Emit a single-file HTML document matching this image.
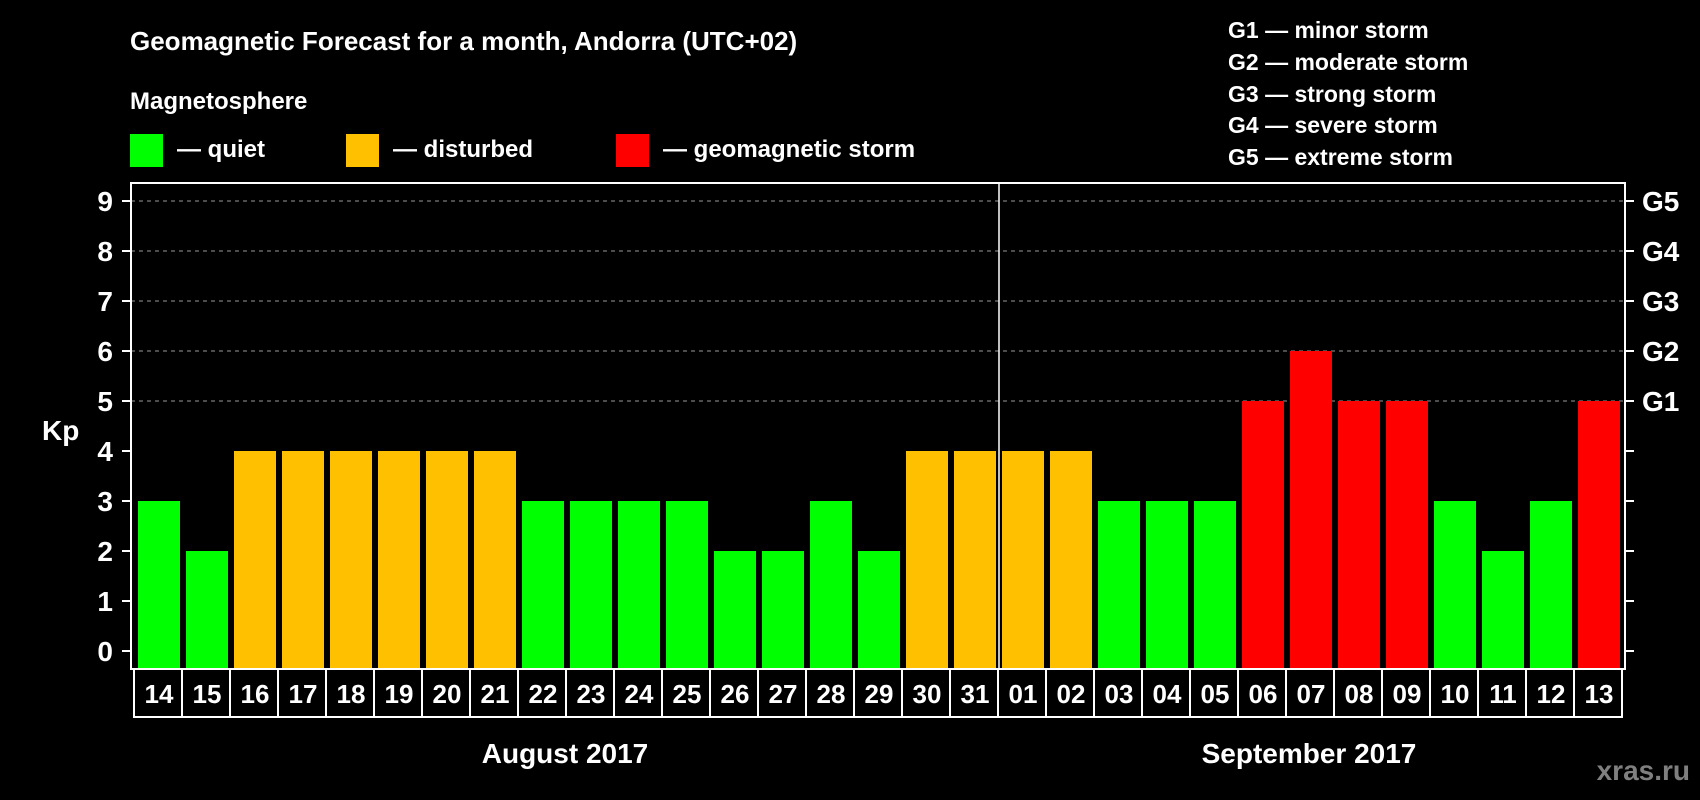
<!DOCTYPE html>
<html><head><meta charset="utf-8"><style>
html,body{margin:0;padding:0;background:#000;}
svg{display:block;font-family:"Liberation Sans",sans-serif;font-weight:bold;}
</style></head><body>
<svg id="chart" width="1700" height="800" viewBox="0 0 1700 800">
<rect width="1700" height="800" fill="#000"/>
<text x="130" y="50" fill="#fff" font-size="26">Geomagnetic Forecast for a month, Andorra (UTC+02)</text>
<text x="130" y="109" fill="#fff" font-size="24">Magnetosphere</text>
<g><rect x="130" y="134" width="33" height="33" fill="#00ff00"/><text x="177" y="157" fill="#fff" font-size="24">— quiet</text></g>
<g><rect x="346" y="134" width="33" height="33" fill="#ffc000"/><text x="393" y="157" fill="#fff" font-size="24">— disturbed</text></g>
<g><rect x="616" y="134" width="33" height="33" fill="#ff0000"/><text x="663" y="157" fill="#fff" font-size="24">— geomagnetic storm</text></g>
<g fill="#fff" font-size="23">
<text x="1228" y="38">G1 — minor storm</text>
<text x="1228" y="70">G2 — moderate storm</text>
<text x="1228" y="102">G3 — strong storm</text>
<text x="1228" y="133">G4 — severe storm</text>
<text x="1228" y="165">G5 — extreme storm</text>
</g>
<text x="42" y="440" fill="#fff" font-size="28">Kp</text>
<text x="565" y="763" fill="#fff" font-size="28" text-anchor="middle">August 2017</text>
<text x="1309" y="763" fill="#fff" font-size="28" text-anchor="middle">September 2017</text>
<text x="1690" y="780" fill="#7f7f7f" font-size="28" text-anchor="end">xras.ru</text>
<g id="grid"></g><g id="bars"></g><g id="axes"></g>
</svg>
<script>
const days = ["14","15","16","17","18","19","20","21","22","23","24","25","26","27","28","29","30","31","01","02","03","04","05","06","07","08","09","10","11","12","13"];
const kp = [3,2,4,4,4,4,4,4,3,3,3,3,2,2,3,2,4,4,4,4,3,3,3,5,6,5,5,3,2,3,5];
const yTicks = [0,1,2,3,4,5,6,7,8,9];
const gLabels = ["G1","G2","G3","G4","G5"];
const gLevels = [5,6,7,8,9];
const monthSplit = 18;

const NS="http://www.w3.org/2000/svg";
const L=131,R=1625,T=183,B=669,Y0=651,UNIT=50,PITCH=48,BX=138,BW=42;
const y=v=>Y0-v*UNIT;
const x=i=>BX+i*PITCH;
function mk(tag,attrs,parent,txt){const e=document.createElementNS(NS,tag);for(const k in attrs)e.setAttribute(k,attrs[k]);if(txt!=null)e.textContent=txt;parent.appendChild(e);return e;}
const grid=document.getElementById('grid'),bars=document.getElementById('bars'),axes=document.getElementById('axes');
gLevels.forEach((v,i)=>{
  const l=mk('line',{x1:L,x2:R,y1:y(v),y2:y(v),stroke:'#999','stroke-width':1,'stroke-dasharray':'4,4'},grid);
  
  
  const t=mk('text',{x:1642,y:y(v)+10,fill:'#fff','font-size':28},axes,gLabels[i]);
  
  
});
kp.forEach((v,i)=>{
  const c=v>=5?'#ff0000':(v>=4?'#ffc000':'#00ff00');
  const r=mk('rect',{x:x(i),y:y(v),width:BW,height:y(0)-y(v)+18,fill:c},bars);
  
  
  const b=mk('rect',{x:x(i)-4,y:B,width:PITCH,height:48,fill:'#000',stroke:'#fff','stroke-width':2},axes);
  
  
  const t=mk('text',{x:x(i)+BW/2,y:B+34,fill:'#fff','font-size':26,'text-anchor':'middle'},axes,days[i]);
  
  
});
yTicks.forEach(v=>{
  mk('line',{x1:122,x2:L,y1:y(v),y2:y(v),stroke:'#fff','stroke-width':2},axes);
  mk('line',{x1:R,x2:1634,y1:y(v),y2:y(v),stroke:'#fff','stroke-width':2},axes);
  const t=mk('text',{x:113,y:y(v)+10,fill:'#fff','font-size':28,'text-anchor':'end'},axes,String(v));
  
  
});
const frame=mk('rect',{x:L,y:T,width:R-L,height:B-T,fill:'none',stroke:'#fff','stroke-width':2},axes);


const dx=x(monthSplit)-3;
const div=mk('line',{x1:dx,x2:dx,y1:T,y2:B,stroke:'#fff','stroke-width':1.5},axes);


</script>
</body></html>
